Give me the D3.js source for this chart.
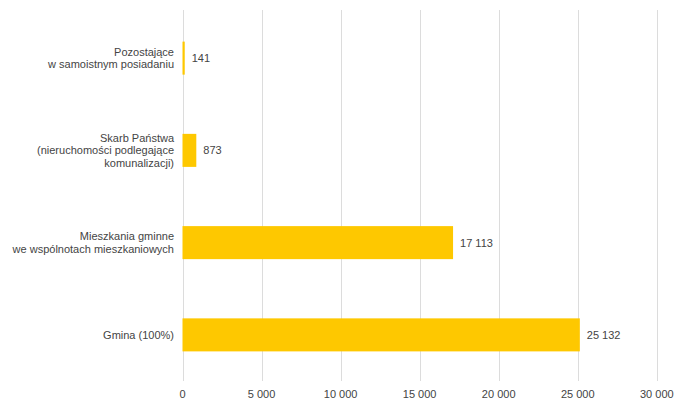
<!DOCTYPE html>
<html><head><meta charset="utf-8">
<script src="https://cdn.jsdelivr.net/npm/d3@7"></script>
<style>body{margin:0;background:#fff;}svg{display:block;font-family:"Liberation Sans",Arial,sans-serif;}</style>
</head><body>
<svg id="c" width="677" height="401"></svg>
<script>
const categories = [
  ["Pozostające", "w samoistnym posiadaniu"],
  ["Skarb Państwa", "(nieruchomości podlegające", "komunalizacji)"],
  ["Mieszkania gminne", "we wspólnotach mieszkaniowych"],
  ["Gmina (100%)"]
];
const values = [141, 873, 17113, 25132];
const tickValues = [0, 5000, 10000, 15000, 20000, 25000, 30000];

const fmt = v => d3.format(",")(v).replace(/,/g, " ");
const svg = d3.select("#c");
const x = d3.scaleLinear().domain([0, 30000]).range([182.5, 656.8]);
const y = d3.scaleBand().domain(d3.range(categories.length)).range([12, 381]).padding(0);
const barH = y.bandwidth() * 0.358;

// gridlines
svg.append("g").selectAll("line").data(tickValues).join("line")
  .attr("x1", d => Math.round(x(d)) + 0.5).attr("x2", d => Math.round(x(d)) + 0.5)
  .attr("y1", 10).attr("y2", 381)
  .attr("stroke", "#dcdcdc").attr("stroke-width", 1);

// tick labels
svg.append("g").selectAll("text").data(tickValues).join("text")
  .attr("x", d => x(d)).attr("y", 398)
  .attr("text-anchor", "middle").attr("font-size", 11).attr("fill", "#444")
  .text(d => fmt(d));

// bars
svg.append("g").selectAll("rect").data(values).join("rect")
  .attr("x", x(0)).attr("width", d => x(d) - x(0))
  .attr("y", (d, i) => y(i) + y.bandwidth() / 2 - barH / 2).attr("height", barH)
  .attr("fill", "#fec800");

// value labels
svg.append("g").selectAll("text").data(values).join("text")
  .attr("x", d => x(d) + 7).attr("y", (d, i) => y(i) + y.bandwidth() / 2 + 4)
  .attr("font-size", 11).attr("fill", "#444")
  .text(d => fmt(d));

// category labels
const lh = 12.5;
const cl = svg.append("g").selectAll("text").data(categories).join("text")
  .attr("text-anchor", "end").attr("font-size", 11).attr("fill", "#444")
  .attr("y", (d, i) => y(i) + y.bandwidth() / 2 + 4 - (d.length - 1) * lh / 2);
cl.selectAll("tspan").data(d => d).join("tspan")
  .attr("x", 174).attr("dy", (d, j) => j === 0 ? 0 : lh)
  .text(d => d);
</script>
</body></html>
